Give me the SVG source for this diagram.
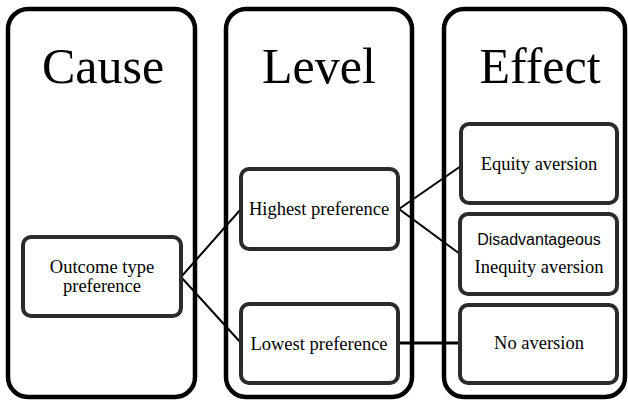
<svg xmlns="http://www.w3.org/2000/svg" width="628" height="400" viewBox="0 0 628 400">
<style>
.col{fill:#fff;stroke:#000;stroke-width:4.5}
.box{fill:#fff;stroke:#2b2b2b;stroke-width:4}
.title{font-family:'Liberation Serif','Times New Roman','DejaVu Serif',Times,serif;font-size:50px;fill:#000;text-anchor:middle}
.lbl{font-family:'Liberation Serif','Times New Roman','DejaVu Serif',Times,serif;font-size:18.5px;fill:#000;text-anchor:middle}
.sans{font-family:'Liberation Sans',Arial,sans-serif;font-size:16px;fill:#000;text-anchor:middle}
.conn{stroke:#000;stroke-width:2;fill:none}
</style>
<g id="cause-col"><rect class="col" x="8" y="9" width="187" height="388" rx="20"/><text class="title" x="103" y="83">Cause</text></g>
<g id="level-col"><rect class="col" x="226" y="9" width="186" height="388" rx="20"/><text class="title" x="319" y="83">Level</text></g>
<g id="effect-col"><rect class="col" x="444" y="9" width="181" height="388" rx="20"/><text class="title" x="540" y="83">Effect</text></g>
<g id="connectors">
<polyline class="conn" points="241,209 181,277 241,343"/>
<polyline class="conn" points="461,166 399,209 460,254"/>
<line class="conn" x1="399" y1="343" x2="460" y2="343" style="stroke-width:3"/>
</g>
<g id="outcome"><rect class="box" x="23" y="237" width="158" height="79" rx="8"/><text class="lbl" x="102" y="273">Outcome type</text><text class="lbl" x="102" y="292">preference</text></g>
<g id="highest"><rect class="box" x="241" y="169" width="157" height="80" rx="8"/><text class="lbl" x="319" y="215">Highest preference</text></g>
<g id="lowest"><rect class="box" x="241" y="304" width="157" height="79" rx="8"/><text class="lbl" x="319" y="350">Lowest preference</text></g>
<g id="equity"><rect class="box" x="461" y="124" width="156" height="79" rx="8"/><text class="lbl" x="539" y="170">Equity aversion</text></g>
<g id="disadv"><rect class="box" x="460" y="214" width="157" height="80" rx="8"/><text class="sans" x="539" y="245">Disadvantageous</text><text class="lbl" x="539" y="273">Inequity aversion</text></g>
<g id="noaversion"><rect class="box" x="460" y="305" width="157" height="78" rx="8"/><text class="lbl" x="539" y="349">No aversion</text></g>
</svg>
